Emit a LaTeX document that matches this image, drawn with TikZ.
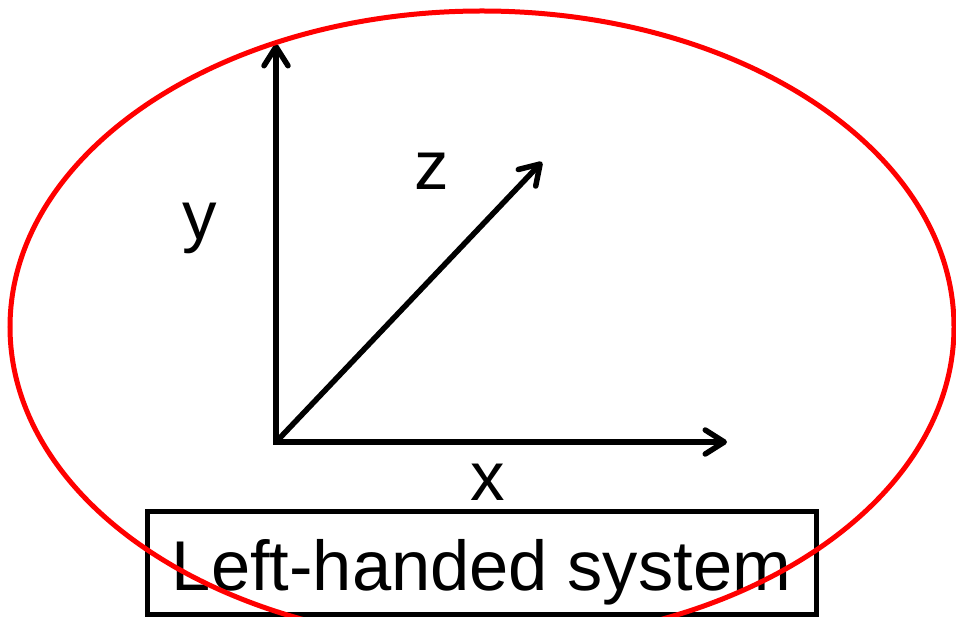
\documentclass[tikz,border=0pt]{standalone}
\usepackage{fontspec}
\setmainfont{Liberation Sans}
\usetikzlibrary{arrows.meta}
\tikzset{
  axis/.style={draw=black, line width=5.5pt, line cap=rect,
    -{Straight Barb[length=19pt, width=24pt, line cap=round, line join=round]}},
  axislabel/.style={font=\fontsize{69}{80}\selectfont, anchor=base, inner sep=0pt},
  captionbox/.style={draw=black, line width=5pt, inner sep=0pt,
    minimum width=669pt, minimum height=103pt, text height=63pt, text depth=7pt,
    font=\fontsize{70.5}{80}\selectfont},
  outline/.style={draw=red, line width=5pt}
}
\begin{document}
\begin{tikzpicture}[x=1pt, y=-1pt]
  \useasboundingbox (0,0) rectangle (956,617);
  \coordinate (O) at (276,442);
  \coordinate (ytip) at (276,44);
  \coordinate (xtip) at (727,442);
  \coordinate (ztip) at (542,162);
  \draw[axis] (O) -- (ytip);
  \draw[axis] (O) -- (xtip);
  \draw[axis, line cap=round] (O) -- (ztip);
  \node[axislabel] (ylab) at (200,240) {y};
  \node[axislabel] (zlab) at (432,190) {z};
  \node[axislabel] (xlab) at (488,500) {x};
  \node[captionbox] (caption) at (481.5,562.5) {Left-handed system};
  \draw[outline] (482,327) ellipse [x radius=472pt, y radius=316pt];
\end{tikzpicture}
\end{document}
